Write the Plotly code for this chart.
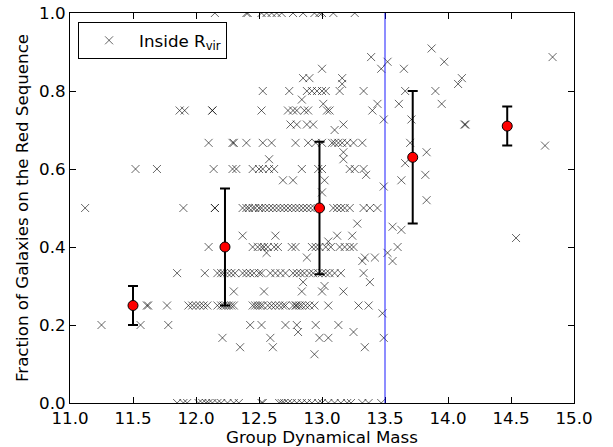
import plotly.graph_objects as go

# ---- individual galaxies inside R_vir: group mass values per red-sequence fraction ----
f_100 = 1.0
m_100 = [12.15, 12.40, 12.41, 12.52, 12.56, 12.60, 12.64, 12.68, 12.77, 12.85, 12.94, 12.98, 13.00, 13.09, 13.26]
f_091 = 0.909
m_091 = [13.87]
f_089 = 0.887
m_089 = [13.39, 14.83]
f_088 = 0.875
m_088 = [13.52, 13.97]
f_086 = 0.857
m_086 = [13.00, 13.47, 13.65]
f_083 = 0.833
m_083 = [12.85, 12.90, 13.16, 14.11]
f_082 = 0.818
m_082 = [13.16, 14.08]
f_080 = 0.8
m_080 = [12.53, 12.74, 12.88, 12.92, 12.96, 13.00, 13.03, 13.14, 13.33, 13.66, 13.90]
f_078 = 0.778
m_078 = [12.84]
f_077 = 0.767
m_077 = [13.01, 13.61, 13.95, 13.44]
f_075 = 0.75
m_075 = [11.87, 11.91, 12.13, 12.13, 12.52, 12.73, 12.77, 12.80, 12.86, 12.89, 13.04, 13.06, 13.40]
f_073 = 0.727
m_073 = [13.49, 13.71]
f_071 = 0.714
m_071 = [12.75, 12.80, 12.88, 12.93, 13.17, 14.13, 14.14]
f_070 = 0.70
m_070 = [13.10]
f_067 = 0.667
m_067 = [12.10, 12.29, 12.30, 12.40, 12.53, 12.60, 12.79, 12.89, 12.95, 13.00, 13.08, 13.10,
         13.13, 13.16, 13.20, 13.25, 13.32, 13.70]
f_066 = 0.66
m_066 = [14.77]
f_064 = 0.643
m_064 = [13.83, 13.17]
f_063 = 0.625
m_063 = [12.58, 13.17]
f_062 = 0.615
m_062 = [13.66]
f_060 = 0.6
m_060 = [11.52, 11.69, 12.14, 12.29, 12.32, 12.45, 12.50, 12.53, 12.58, 12.62, 12.84, 12.97,
         13.00, 13.22, 13.26, 13.33]
f_058 = 0.585
m_058 = [13.35, 13.82]
f_057 = 0.571
m_057 = [12.69, 12.77, 13.02, 13.63]
f_056 = 0.555
m_056 = [13.49]
f_054 = 0.54
m_054 = [13.00]
f_052 = 0.52
m_052 = [13.83]
f_050 = 0.5
m_050 = [11.12, 11.90, 12.15, 12.15, 12.37, 12.40, 12.42, 12.45, 12.47, 12.50, 12.52, 12.55,
         12.58, 12.61, 12.64, 12.67, 12.70, 12.73, 12.76, 12.79, 12.82, 12.85, 12.88, 12.91,
         12.94, 13.09, 13.12, 13.15, 13.18, 13.22, 13.33, 13.38, 13.44]
f_046 = 0.46
m_046 = [13.28]
f_045 = 0.452
m_045 = [13.56]
f_044 = 0.444
m_044 = [13.63]
f_043 = 0.429
m_043 = [12.37, 12.63, 13.12, 13.24]
f_042 = 0.423
m_042 = [14.54]
f_041 = 0.414
m_041 = [13.05]
f_040 = 0.4
m_040 = [12.10, 12.45, 12.49, 12.52, 12.54, 12.57, 12.62, 12.65, 12.76, 12.79, 12.92, 12.95,
         12.98, 13.03, 13.07, 13.14, 13.18, 13.22, 13.25, 13.60]
f_038 = 0.385
m_038 = [12.56, 13.52]
f_037 = 0.373
m_037 = [12.88, 13.34, 13.42]
f_036 = 0.364
m_036 = [13.56, 13.32]
f_033 = 0.333
m_033 = [11.85, 12.07, 12.17, 12.20, 12.22, 12.25, 12.28, 12.31, 12.37, 12.40, 12.43, 12.46,
         12.50, 12.52, 12.59, 12.63, 12.67, 12.71, 12.77, 12.80, 12.83, 12.86, 12.90, 12.93,
         12.97, 13.00, 13.03, 13.06, 13.10, 13.15, 13.33]
f_031 = 0.31
m_031 = [12.85, 13.38]
f_030 = 0.30
m_030 = [13.02]
f_029 = 0.286
m_029 = [12.30, 12.54, 12.84, 13.00, 13.17]
f_025 = 0.25
m_025 = [11.61, 11.62, 11.77, 11.94, 11.97, 12.00, 12.03, 12.06, 12.09, 12.17, 12.20, 12.22,
         12.24, 12.26, 12.28, 12.30, 12.45, 12.47, 12.49, 12.51, 12.53, 12.57, 12.60, 12.63,
         12.66, 12.69, 12.71, 12.77, 12.79, 12.80, 12.82, 12.84, 12.87, 12.90, 12.94, 13.05,
         13.29, 13.37]
f_023 = 0.23
m_023 = [13.48]
f_020 = 0.2
m_020 = [11.25, 11.56, 11.78, 12.43, 12.52, 12.71, 12.80, 12.95, 13.13]
f_018 = 0.182
m_018 = [12.81, 13.25]
f_017 = 0.167
m_017 = [12.21, 12.59, 12.98, 13.05, 13.49]
f_014 = 0.143
m_014 = [12.35, 12.61, 13.34]
f_013 = 0.125
m_013 = [12.94]
f_000 = 0.0
m_000 = [11.85, 11.90, 11.93, 12.02, 12.05, 12.08, 12.10, 12.13, 12.17, 12.20, 12.25, 12.30,
         12.34, 12.52, 12.53, 12.66, 12.68, 12.70, 12.73, 12.76, 12.80, 12.84, 12.88, 12.92,
         12.97, 13.00, 13.05, 13.10, 13.15, 13.20, 13.23, 13.32, 13.37, 13.47]

rows = [
    (f_100, m_100), (f_091, m_091), (f_089, m_089), (f_088, m_088), (f_086, m_086),
    (f_083, m_083), (f_082, m_082), (f_080, m_080), (f_078, m_078), (f_077, m_077),
    (f_075, m_075), (f_073, m_073), (f_071, m_071), (f_070, m_070), (f_067, m_067),
    (f_066, m_066), (f_064, m_064), (f_063, m_063), (f_062, m_062), (f_060, m_060),
    (f_058, m_058), (f_057, m_057), (f_056, m_056), (f_054, m_054), (f_052, m_052),
    (f_050, m_050), (f_046, m_046), (f_045, m_045), (f_044, m_044), (f_043, m_043),
    (f_042, m_042), (f_041, m_041), (f_040, m_040), (f_038, m_038), (f_037, m_037),
    (f_036, m_036), (f_033, m_033), (f_031, m_031), (f_030, m_030), (f_029, m_029),
    (f_025, m_025), (f_023, m_023), (f_020, m_020), (f_018, m_018), (f_017, m_017),
    (f_014, m_014), (f_013, m_013), (f_000, m_000),
]
gal_mass = [m for f, ms in rows for m in ms]
gal_frac = [f for f, ms in rows for m in ms]

# ---- binned means with error bars ----
bin_mass = [11.5, 12.23, 12.98, 13.72, 14.47]
bin_frac = [0.25, 0.40, 0.50, 0.63, 0.71]
bin_hi = [0.30, 0.55, 0.67, 0.80, 0.76]
bin_lo = [0.20, 0.25, 0.33, 0.46, 0.66]
err_plus = [h - f for h, f in zip(bin_hi, bin_frac)]
err_minus = [f - l for f, l in zip(bin_frac, bin_lo)]

mass_cut = 13.5

x_ticks = [11.0, 11.5, 12.0, 12.5, 13.0, 13.5, 14.0, 14.5, 15.0]
y_ticks = [0.0, 0.2, 0.4, 0.6, 0.8, 1.0]

FONT = "DejaVu Sans"
FS = 16.7

fig = go.Figure()
fig.add_trace(go.Scatter(
    x=gal_mass, y=gal_frac, mode="markers", name="Inside R<sub>vir</sub>",
    marker=dict(symbol="x-thin-open", size=8, color="rgba(0,0,0,0.6)",
                line=dict(width=1, color="rgba(0,0,0,0.6)")),
))
fig.add_trace(go.Scatter(
    x=bin_mass, y=bin_frac, mode="markers", showlegend=False,
    marker=dict(symbol="circle", size=10, color="red", line=dict(width=1, color="black")),
    error_y=dict(type="data", symmetric=False, array=err_plus, arrayminus=err_minus,
                 color="black", thickness=2, width=5),
))
fig.add_shape(type="line", x0=mass_cut, x1=mass_cut, xref="x", yref="paper", y0=0, y1=1,
              line=dict(color="rgba(0,0,255,0.6)", width=1.5))

axis_common = dict(showline=True, linecolor="black", linewidth=1, mirror="ticks",
                   ticks="inside", ticklen=6, tickcolor="black", tickwidth=1,
                   showgrid=False, zeroline=False,
                   tickfont=dict(family=FONT, size=FS, color="black"))
fig.update_xaxes(range=[11, 15], tickvals=x_ticks, tickformat=".1f",
                 title=dict(text="Group Dynamical Mass", font=dict(family=FONT, size=FS, color="black"),
                            standoff=2),
                 automargin=False, **axis_common)
fig.update_yaxes(range=[0, 1], tickvals=y_ticks, tickformat=".1f",
                 title=dict(text="Fraction of Galaxies on the Red Sequence",
                            font=dict(family=FONT, size=FS, color="black"), standoff=6),
                 automargin=False, **axis_common)

fig.update_layout(
    width=613, height=447,
    margin=dict(l=70, r=39, t=13, b=44),
    paper_bgcolor="white", plot_bgcolor="white",
    font=dict(family=FONT, size=FS, color="black"),
    legend=dict(x=0.016, y=0.977, xanchor="left", yanchor="top",
                bordercolor="black", borderwidth=1, bgcolor="white",
                font=dict(family=FONT, size=FS, color="black"), itemwidth=50),
)
fig.write_html("out.html")
